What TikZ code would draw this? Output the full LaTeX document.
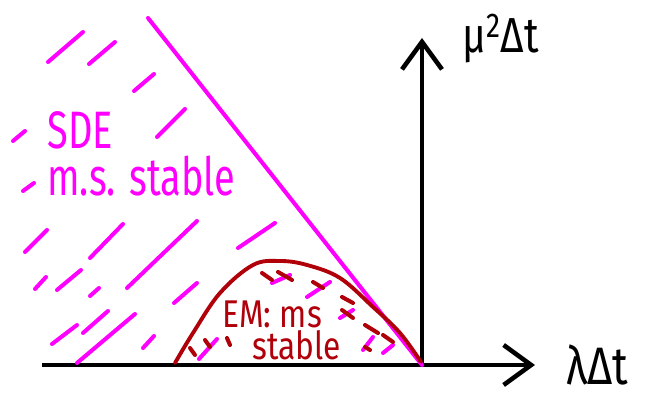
\documentclass[tikz,border=0pt]{standalone}
\usepackage{fontspec}
\setmainfont{Fira Sans}
\newfontfamily\handfont[FakeStretch=0.72]{Fira Sans}
\newfontfamily\emfont[FakeStretch=0.82]{Fira Sans}
\usetikzlibrary{arrows.meta}
\definecolor{sdemag}{HTML}{FF00FF}
\definecolor{emred}{HTML}{B0000A}

\begin{document}
\begin{tikzpicture}[x=0.02cm,y=-0.02cm,
  axis/.style={line width=1.8pt,-{Straight Barb[length=0.55cm,width=0.8cm,line width=2.6pt]}},
  hatch/.style={sdemag,line width=2.3pt,line cap=round},
  emhatch/.style={emred,line width=2.3pt,line cap=round},
  lab/.style={inner sep=0pt,anchor=base west}
]
\useasboundingbox (0,0) rectangle (647,394);

% axes
\coordinate (O) at (422,365);
\coordinate (xl) at (42,365);
\coordinate (xr) at (535,365);
\coordinate (yt) at (422,38);
\draw[axis] (xl) -- (xr);
\draw[axis] (O) -- (yt);
\node[lab,font=\emfont\fontsize{28}{30}\selectfont] (mulab) at (462,53) {μ\textsuperscript{2}Δt};
\node[lab,font=\emfont\fontsize{30}{32}\selectfont] (lamlab) at (566,385) {λΔt};

% SDE region
\coordinate (top) at (148,18);
\draw[hatch] (top) -- (O);
\foreach \xa/\ya/\xb/\yb in {48/62/83/32, 89/64/115/42, 134/91/154/74,
  157/137/185/109, 13/141/25/131, 23/191/34/183,
  25/252/47/230, 90/258/123/224, 127/288/197/221,
  238/248/275/223, 35/289/46/277, 57/290/81/270,
  90/296/99/288, 174/303/197/283, 52/344/77/325,
  83/333/108/311, 77/363/135/314, 143/348/154/336,
  199/359/217/339, 272/283/290/275, 307/297/330/282,
  340/318/353/310, 363/350/373/337, 383/353/393/345}
  \draw[hatch] (\xa,\ya) -- (\xb,\yb);
\node[lab,anchor=north west,text=sdemag,align=left,
  font=\handfont\fontsize{30}{26.7}\selectfont] (sde) at (47,111) {SDE\\m.s. stable};

% EM region
\draw[emred,line width=2.2pt,line cap=round] plot[smooth,tension=0.6] coordinates
  {(175,363) (193,333) (220,293) (253,265) (280,261) (307,265) (340,278) (373,307) (400,333) (421,362)};
\foreach \xa/\ya/\xb/\yb in {262/273/272/280, 278/272/292/280, 313/282/323/288,
  342/297/353/303, 342/310/353/318, 365/325/378/333,
  365/347/370/350, 383/335/393/342, 190/348/195/355,
  205/340/210/347, 227/338/230/345}
  \draw[emhatch] (\xa,\ya) -- (\xb,\yb);
\node[lab,anchor=north west,text=emred,align=left,
  font=\emfont\fontsize{22}{14.5}\selectfont] (em) at (222,301) {EM: ms\\\hspace*{0.6cm}stable};
\end{tikzpicture}
\end{document}
